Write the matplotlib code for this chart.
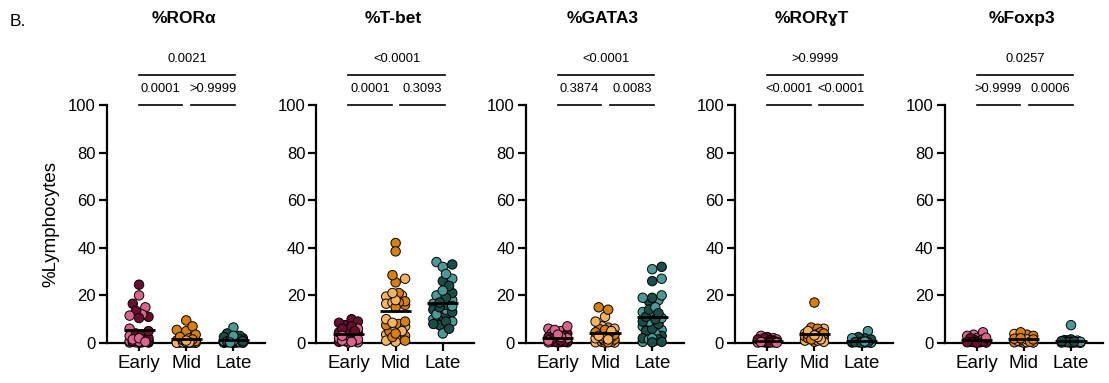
import numpy as np
import matplotlib.pyplot as plt

plt.rcParams['font.family'] = ['Liberation Sans', 'DejaVu Sans']

groups = ['Early', 'Mid', 'Late']
titles = ['%RORα', '%T-bet', '%GATA3', '%RORɣT', '%Foxp3']

# (dark, light) values per group, per panel
ror_a = {
    'Early': ([24.5, 16.5, 13.5, 11, 10.5, 5, 3.5, 2, 1, 0.5, 0.3, 0.2, 0.1, 1.5, 0.8, 4],
              [20, 15, 12, 11.5, 6, 2, 1.5, 0.8, 0.5, 0.3, 0.2, 3, 1, 0.6]),
    'Mid': ([9.5, 7, 5.5, 5, 3.5, 2.5, 2, 1.5, 1, 0.8, 0.5, 0.3, 0.2, 0.1, 1.2, 0.6],
            [0.2, 0.1, 0.05, 0.3, 0.5, 0.4, 0.2, 0.1, 1, 0.6, 0.3, 0.2]),
    'Late': ([4, 3, 2.5, 2, 1.5, 1.2, 1, 0.8, 0.6, 0.5, 0.4, 0.3, 0.2, 0.1, 0.1, 0.3, 0.7, 0.5],
             [6.5, 3, 1.5, 1, 0.5, 0.3, 0.2, 0.1, 0.8, 0.4]),
}
tbet = {
    'Early': ([10, 9, 8.5, 7.5, 7, 6, 5.5, 5, 4.5, 4, 3, 2.5, 2, 1.5, 1, 0.5],
              [6, 5, 4, 3, 2, 1.5, 1, 0.8, 0.5, 0.3, 0.2, 2.5]),
    'Mid': ([42, 38.5, 28.5, 25.5, 21, 15, 17.5, 17, 16, 9, 8, 7.5, 5, 2.5, 1, 3, 4],
            [27, 20, 21, 19.5, 18, 17, 16.5, 10, 8.5, 7, 6, 5, 3.5, 2, 1, 0.5]),
    'Late': ([33, 26, 24, 21, 19, 17, 16, 15, 14, 13, 12, 11, 10, 9, 8, 7.5, 6],
             [34, 32, 29, 27, 22, 20, 18, 16.5, 15.5, 14, 13, 12, 11, 10, 9, 4]),
}
gata3 = {
    'Early': ([4, 3, 2.5, 2, 1.5, 1, 0.8, 0.5, 0.3, 0.2, 0.5, 1.2, 0.7, 0.4],
              [7, 6, 5.5, 5, 4, 3.5, 3, 2.5, 2, 1.5, 1, 0.5, 0.3]),
    'Mid': ([15, 14, 6, 6.5, 5.5, 4.5, 3.5, 3, 2.5, 2, 1.5, 1, 0.5, 0.2, 0.3],
            [11, 9, 7, 6, 5, 4, 3, 2.5, 2, 1.5, 1, 0.5, 0.3, 0.2]),
    'Late': ([32, 26, 19, 17.5, 14, 12.5, 11, 10, 9, 8, 6, 5, 3, 1.5, 0.5, 2, 0.3],
             [31, 27, 20, 19, 18, 15, 13, 12, 10.5, 9, 7, 5.5, 4, 2, 1, 0.5, 1.5]),
}
ror_gt = {
    'Early': ([2.5, 2, 1.5, 1, 0.8, 0.5, 0.3, 0.2, 0.1, 0.6, 0.4, 1.2],
              [3, 2, 1.5, 1, 0.5, 0.3, 0.2, 0.1, 0.8, 0.4]),
    'Mid': ([17, 6.5, 6, 5, 4.5, 4, 3.5, 3, 2.5, 2, 1.5, 1, 0.5, 2.8, 3.8],
            [6, 5, 4, 3, 2.5, 2, 1.5, 1, 0.5, 3.2, 4.2]),
    'Late': ([2.5, 2, 1.5, 1, 0.5, 0.3, 0.2, 0.1, 0.8, 0.4, 0.6, 1.2, 0.2],
             [5, 2, 1, 0.5, 0.3, 0.1, 0.6]),
}
foxp3 = {
    'Early': ([2, 1.5, 1, 0.8, 0.5, 0.3, 0.2, 0.1, 0.6, 0.4],
              [4.5, 3, 2.5, 2, 1.5, 1, 0.5, 0.3, 3.5, 2.2]),
    'Mid': ([4.5, 3.5, 3, 2.5, 2, 1.5, 1, 0.5, 0.3, 0.2, 0.1, 1.8],
            [2.5, 2, 1.5, 1, 0.5, 0.3, 3.8]),
    'Late': ([1.5, 1.2, 1, 0.8, 0.5, 0.3, 0.2, 0.1, 0.6, 0.4, 0.2],
             [7.5, 1, 0.5, 0.3, 0.1]),
}
panels = [ror_a, tbet, gata3, ror_gt, foxp3]

# p values: (Early vs Late, Early vs Mid, Mid vs Late)
pvals = [('0.0021', '0.0001', '>0.9999'),
         ('<0.0001', '0.0001', '0.3093'),
         ('<0.0001', '0.3874', '0.0083'),
         ('>0.9999', '<0.0001', '<0.0001'),
         ('0.0257', '>0.9999', '0.0006')]

colors = {'Early': ('#6a0d30', '#d9648e'),
          'Mid': ('#d67f0a', '#f5b360'),
          'Late': ('#1b4c47', '#4c9a98')}


def swarm(vals, ax, diam_px, max_half):
    # simple beeswarm in pixel space, overlap allowed when too crowded
    to_px = ax.transData
    ypx = np.array([to_px.transform((0, v))[1] for v in vals])
    unit = to_px.transform((1, 0))[0] - to_px.transform((0, 0))[0]
    order = np.argsort(ypx)
    placed = []
    offs = np.zeros(len(vals))
    step = diam_px * 0.35
    cands = [0.0]
    k = 1
    while k * step <= max_half * unit:
        cands += [k * step, -k * step]
        k += 1
    for i in order:
        best, best_d = 0.0, -1
        for c in cands:
            d = min([np.hypot(c - px, ypx[i] - py) for px, py in placed] or [1e9])
            if d >= diam_px * 0.85:
                best = c
                break
            if d > best_d:
                best, best_d = c, d
        offs[i] = best
        placed.append((best, ypx[i]))
    return offs / unit


fig = plt.figure(figsize=(11.09, 3.83), dpi=100)
W, H = 1109, 383

for p, data in enumerate(panels):
    left = 107 + 209.4 * p
    ax = fig.add_axes([left / W, (H - 343) / H, 158 / W, 238 / H])
    ax.set_xlim(-0.68, 2.67)
    ax.set_ylim(0, 100)
    for s in ['top', 'right']:
        ax.spines[s].set_visible(False)
    for s in ['left', 'bottom']:
        ax.spines[s].set_linewidth(1.6)
    ax.set_yticks([0, 20, 40, 60, 80, 100])
    ax.set_xticks(range(3))
    ax.set_xticklabels(groups, fontsize=13.5)
    ax.tick_params(axis='y', labelsize=12, length=6, width=1.6, pad=2)
    ax.tick_params(axis='x', length=6, width=1.6, pad=3)

    for g, name in enumerate(groups):
        dark, light = data[name]
        vals = np.array(dark + light)
        shade = np.array([0] * len(dark) + [1] * len(light))
        offs = swarm(vals, ax, 9.0, 0.26)
        idx = np.arange(len(vals))
        np.random.default_rng(3).shuffle(idx)
        cols = [colors[name][shade[i]] for i in idx]
        ax.scatter(g + offs[idx], vals[idx], s=46, c=cols, edgecolors='black',
                   linewidths=0.7, clip_on=False, zorder=3)
        m = vals.mean()
        ax.plot([g - 0.33, g + 0.33], [m, m], color='black', lw=2,
                zorder=4, clip_on=False, solid_capstyle='butt')

    # significance brackets
    top, lo1, lo2 = pvals[p]
    ax.plot([0, 2.04], [112.5, 112.5], color='black', lw=1.2, clip_on=False)
    ax.plot([0, 0.92], [100, 100], color='black', lw=1.2, clip_on=False)
    ax.plot([1.1, 2.04], [100, 100], color='black', lw=1.2, clip_on=False)
    ax.text(1.02, 119.3, top, ha='center', va='center', fontsize=9.3)
    ax.text(0.46, 106.8, lo1, ha='center', va='center', fontsize=9.3)
    ax.text(1.57, 106.8, lo2, ha='center', va='center', fontsize=9.3)
    ax.text(0.95, 136.5, titles[p], ha='center', va='center', fontsize=12.5,
            fontweight='bold')

    if p == 0:
        ax.set_ylabel('%Lymphocytes', fontsize=13.5, labelpad=6)

fig.text(10 / W, 1 - 22 / H, 'B.', fontsize=12.5, ha='left', va='center')

fig.savefig('out.png', dpi=100)
